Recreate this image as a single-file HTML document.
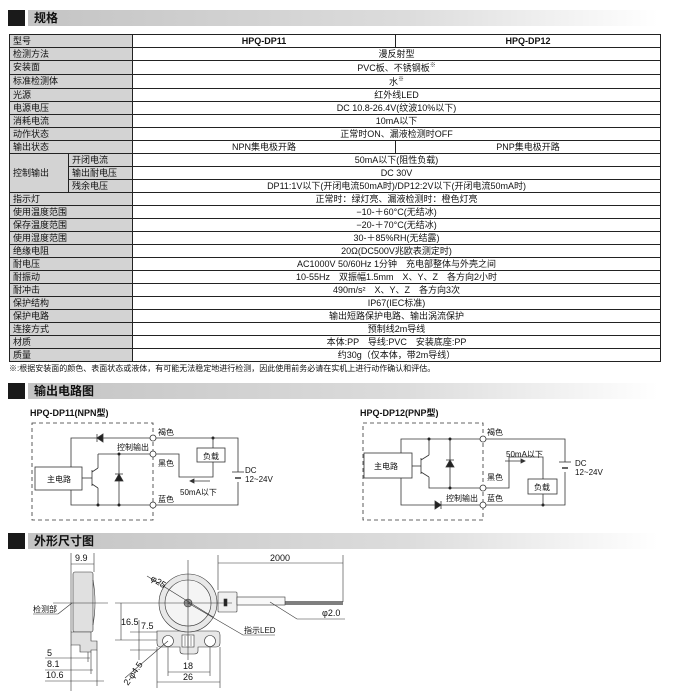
<!DOCTYPE html>
<html><head><meta charset="utf-8"><style>
*{margin:0;padding:0;box-sizing:border-box}
body{width:673px;height:691px;background:#fff;position:relative;overflow:hidden;font-family:"Liberation Sans","Noto Sans CJK SC",sans-serif;color:#111}
.hd{position:absolute;left:8px;height:16px;width:650px}
.hd .sq{position:absolute;left:0;top:0;width:17px;height:16px;background:#1a1a1a}
.hd .bar{position:absolute;left:20px;top:0;right:0;height:16px;background:linear-gradient(to right,#c4c4c4,#dcdcdc 60%,#fff);font-size:12px;font-weight:bold;line-height:16px;padding-left:6px}
table{position:absolute;left:9px;top:34px;border-collapse:collapse;table-layout:fixed;width:651px}
td{border:1px solid #222;height:13px;font-size:9px;line-height:11px;padding:0;text-align:center;white-space:nowrap;overflow:hidden}
td.l{background:#d3d3d3;text-align:left;padding-left:3px}
.fn{position:absolute;left:9px;top:363px;font-size:8px}
svg{position:absolute;left:0;top:0}
svg text{font-family:"Liberation Sans","Noto Sans CJK SC",sans-serif}
</style></head><body>
<div class="hd" style="top:10px"><div class="sq"></div><div class="bar">规格</div></div>
<table>
<colgroup><col style="width:59px"><col style="width:64px"><col style="width:263px"><col style="width:265px"></colgroup>
<tr><td class="l" colspan="2">型号</td><td><b>HPQ-DP11</b></td><td><b>HPQ-DP12</b></td></tr>
<tr><td class="l" colspan="2">检测方法</td><td colspan="2">漫反射型</td></tr>
<tr><td class="l" colspan="2">安装面</td><td colspan="2">PVC板、不锈钢板<sup style="font-size:6px">※</sup></td></tr>
<tr><td class="l" colspan="2">标准检测体</td><td colspan="2">水<sup style="font-size:6px">※</sup></td></tr>
<tr><td class="l" colspan="2">光源</td><td colspan="2">红外线LED</td></tr>
<tr><td class="l" colspan="2">电源电压</td><td colspan="2">DC 10.8-26.4V(纹波10%以下)</td></tr>
<tr><td class="l" colspan="2">消耗电流</td><td colspan="2">10mA以下</td></tr>
<tr><td class="l" colspan="2">动作状态</td><td colspan="2">正常时ON、漏液检测时OFF</td></tr>
<tr><td class="l" colspan="2">输出状态</td><td>NPN集电极开路</td><td>PNP集电极开路</td></tr>
<tr><td class="l" rowspan="3">控制输出</td><td class="l">开闭电流</td><td colspan="2">50mA以下(阻性负载)</td></tr>
<tr><td class="l">输出耐电压</td><td colspan="2">DC 30V</td></tr>
<tr><td class="l">残余电压</td><td colspan="2">DP11:1V以下(开闭电流50mA时)/DP12:2V以下(开闭电流50mA时)</td></tr>
<tr><td class="l" colspan="2">指示灯</td><td colspan="2">正常时：绿灯亮、漏液检测时：橙色灯亮</td></tr>
<tr><td class="l" colspan="2">使用温度范围</td><td colspan="2">−10-＋60°C(无结冰)</td></tr>
<tr><td class="l" colspan="2">保存温度范围</td><td colspan="2">−20-＋70°C(无结冰)</td></tr>
<tr><td class="l" colspan="2">使用湿度范围</td><td colspan="2">30-＋85%RH(无结露)</td></tr>
<tr><td class="l" colspan="2">绝缘电阻</td><td colspan="2">20Ω(DC500V兆欧表测定时)</td></tr>
<tr><td class="l" colspan="2">耐电压</td><td colspan="2">AC1000V 50/60Hz 1分钟　充电部整体与外壳之间</td></tr>
<tr><td class="l" colspan="2">耐振动</td><td colspan="2">10-55Hz　双振幅1.5mm　X、Y、Z　各方向2小时</td></tr>
<tr><td class="l" colspan="2">耐冲击</td><td colspan="2">490m/s²　X、Y、Z　各方向3次</td></tr>
<tr><td class="l" colspan="2">保护结构</td><td colspan="2">IP67(IEC标准)</td></tr>
<tr><td class="l" colspan="2">保护电路</td><td colspan="2">输出短路保护电路、输出涡流保护</td></tr>
<tr><td class="l" colspan="2">连接方式</td><td colspan="2">预制线2m导线</td></tr>
<tr><td class="l" colspan="2">材质</td><td colspan="2">本体:PP　导线:PVC　安装底座:PP</td></tr>
<tr><td class="l" colspan="2">质量</td><td colspan="2">约30g（仅本体，带2m导线）</td></tr>
</table>
<div class="fn">※:根据安装面的颜色、表面状态或液体，有可能无法稳定地进行检测，因此使用前务必请在实机上进行动作确认和评估。</div>
<div class="hd" style="top:383px"><div class="sq"></div><div class="bar">输出电路图</div></div>
<div class="hd" style="top:533px"><div class="sq"></div><div class="bar">外形尺寸图</div></div>

<svg width="673" height="691" viewBox="0 0 673 691" fill="none" stroke="#333" stroke-width="0.8">
<g font-size="9" fill="#111" stroke="none" font-weight="bold">
<text x="30" y="416">HPQ-DP11(NPN型)</text>
<text x="360" y="416">HPQ-DP12(PNP型)</text>
</g>
<!-- LEFT circuit -->
<rect x="32" y="423" width="121" height="97" stroke-dasharray="4,3"/>
<rect x="35" y="467" width="47" height="23" fill="#fff"/>
<polyline points="71,467 71,438 150,438"/>
<polygon points="97,438 103,434 103,442" fill="#222"/>
<line x1="97" y1="434" x2="97" y2="442"/>
<polyline points="98,454 150,454"/>
<line x1="98" y1="454" x2="98" y2="468"/>
<line x1="82" y1="478" x2="92" y2="478"/>
<line x1="92" y1="470" x2="92" y2="486"/>
<line x1="92" y1="472" x2="98" y2="468"/>
<line x1="92" y1="484" x2="98" y2="488"/>
<line x1="98" y1="488" x2="98" y2="505"/>
<polyline points="71,490 71,505 150,505"/>
<line x1="119" y1="454" x2="119" y2="505"/>
<polygon points="119,474 115,481 123,481" fill="#222"/>
<line x1="115" y1="474" x2="123" y2="474"/>
<g fill="#222" stroke="none"><circle cx="98" cy="505" r="1.5"/><circle cx="119" cy="505" r="1.5"/><circle cx="119" cy="454" r="1.5"/><circle cx="213" cy="438" r="1.5"/></g>
<g fill="#fff"><circle cx="153" cy="438" r="3"/><circle cx="153" cy="454" r="3"/><circle cx="153" cy="505" r="3"/></g>
<polyline points="156,438 238,438 238,472"/>
<polyline points="238,482 238,505 156,505"/>
<line x1="232" y1="472" x2="244" y2="472"/><line x1="235" y1="478" x2="241" y2="478" stroke-width="1.5"/>
<line x1="213" y1="438" x2="213" y2="448"/>
<rect x="197" y="448" width="28" height="14" fill="#fff"/>
<polyline points="156,454 179,454 179,477 213,477 213,462"/>
<line x1="190" y1="481" x2="210" y2="481"/><polygon points="190,481 194,479 194,483" fill="#333"/>
<g font-size="8" fill="#111" stroke="none">
<text x="158" y="435">褐色</text><text x="117" y="450">控制输出</text><text x="158" y="466">黑色</text><text x="158" y="502">蓝色</text>
<text x="180" y="495">50mA以下</text><text x="203" y="459">负载</text><text x="47" y="482">主电路</text>
<text x="245" y="473">DC</text><text x="245" y="482">12~24V</text>
</g>
<!-- RIGHT circuit -->
<rect x="363" y="423" width="120" height="97" stroke-dasharray="4,3"/>
<rect x="364" y="453" width="48" height="25" fill="#fff"/>
<polyline points="401,453 401,439 480,439"/>
<line x1="412" y1="466" x2="421" y2="466"/>
<line x1="421" y1="458" x2="421" y2="474"/>
<line x1="421" y1="460" x2="429" y2="455"/><line x1="429" y1="455" x2="429" y2="439"/>
<line x1="421" y1="472" x2="429" y2="477"/><polyline points="429,477 429,488 480,488"/>
<line x1="450" y1="439" x2="450" y2="488"/>
<polygon points="450,460 446,467 454,467" fill="#222"/><line x1="446" y1="460" x2="454" y2="460"/>
<polyline points="401,478 401,505 480,505"/>
<polygon points="441,505 435,501 435,509" fill="#222"/><line x1="441" y1="501" x2="441" y2="509"/>
<g fill="#222" stroke="none"><circle cx="429" cy="439" r="1.5"/><circle cx="450" cy="439" r="1.5"/><circle cx="450" cy="488" r="1.5"/><circle cx="543" cy="505" r="1.5"/></g>
<g fill="#fff"><circle cx="483" cy="439" r="3"/><circle cx="483" cy="488" r="3"/><circle cx="483" cy="505" r="3"/></g>
<polyline points="486,439 565,439 565,462"/>
<polyline points="565,472 565,505 486,505"/>
<line x1="559" y1="462" x2="571" y2="462"/><line x1="562" y1="468" x2="568" y2="468" stroke-width="1.5"/>
<polyline points="486,488 509,488 509,457 543,457 543,479"/>
<rect x="528" y="479" width="29" height="15" fill="#fff"/>
<line x1="543" y1="494" x2="543" y2="505"/>
<line x1="505" y1="461" x2="525" y2="461"/><polygon points="525,461 521,459 521,463" fill="#333"/>
<g font-size="8" fill="#111" stroke="none">
<text x="487" y="435">褐色</text><text x="506" y="457">50mA以下</text><text x="487" y="480">黑色</text>
<text x="446" y="501">控制输出</text><text x="487" y="501">蓝色</text><text x="534" y="490">负载</text>
<text x="374" y="469">主电路</text><text x="575" y="466">DC</text><text x="575" y="475">12~24V</text>
</g>
<!-- Dimension drawing -->
<g stroke-width="0.6">
<!-- side view -->
<line x1="71" y1="553" x2="71" y2="632"/><line x1="94" y1="553" x2="94" y2="572"/>
<line x1="71" y1="564" x2="94" y2="564"/>
<rect x="73" y="572" width="20" height="60" fill="#e0e0e0" rx="2"/>
<path d="M93,580 Q97,602 93,625" />
<path d="M71,632 L91,632 L91,641 L97,641 L97,650 L91,650 L91,652 L80,652 L80,645 L71,645 Z" fill="#e0e0e0"/>
<line x1="53" y1="603" x2="108" y2="603"/>
<line x1="33" y1="614" x2="58" y2="614"/><line x1="58" y1="614" x2="72" y2="603"/>
<line x1="71" y1="645" x2="71" y2="691"/>
<line x1="88" y1="652" x2="88" y2="662"/><line x1="91" y1="652" x2="91" y2="674"/><line x1="97" y1="650" x2="97" y2="686"/>
<line x1="45" y1="658" x2="90" y2="658"/><line x1="45" y1="670" x2="93" y2="670"/><line x1="45" y1="681" x2="104" y2="681"/>
<!-- front view -->
<path d="M180,631 L157,631 Q157,631 157,635 L157,643 Q157,647 161,647 L180,647 L180,651 Q180,654 184,654 L194,654 Q198,654 198,651 L198,647 L216,647 Q220,647 220,643 L220,635 Q220,631 216,631 Z" fill="#e8e8e8"/>
<circle cx="188" cy="603" r="29" fill="#e8e8e8"/>
<circle cx="188" cy="603" r="23" fill="#f4f4f4"/>
<circle cx="168" cy="641" r="5.5" fill="#fff"/><circle cx="210" cy="641" r="5.5" fill="#fff"/>
<rect x="182" y="635" width="12" height="12" fill="#fff"/>
<g stroke-width="0.5"><line x1="185" y1="636" x2="185" y2="646"/><line x1="188" y1="636" x2="188" y2="646"/><line x1="191" y1="636" x2="191" y2="646"/></g>
<circle cx="188" cy="603" r="4" fill="#999"/>
<rect x="218" y="592" width="19" height="20" rx="1" fill="#f0f0f0"/>
<rect x="224" y="599" width="3" height="7" fill="#222"/>
<rect x="237" y="597" width="48" height="8" fill="#f8f8f8"/>
<line x1="285" y1="602" x2="343" y2="602" stroke-width="1.2"/><line x1="285" y1="604" x2="343" y2="604" stroke-width="1.2"/>
<line x1="218" y1="555" x2="218" y2="590"/><line x1="343" y1="555" x2="343" y2="602"/>
<line x1="218" y1="563" x2="343" y2="563"/>
<line x1="188" y1="560" x2="188" y2="660"/>
<line x1="115" y1="603" x2="232" y2="603"/>
<line x1="115" y1="640" x2="157" y2="640"/>
<line x1="121" y1="603" x2="121" y2="640"/>
<line x1="130" y1="632" x2="157" y2="632"/><line x1="130" y1="650" x2="157" y2="650"/>
<line x1="139" y1="620" x2="139" y2="660"/>
<line x1="147" y1="576" x2="213" y2="617"/>
<polyline points="188,603 243,635 275,635"/>
<polyline points="270,602 297,619 345,619"/>
<line x1="168" y1="641" x2="125" y2="678"/>
<line x1="168" y1="647" x2="168" y2="676"/><line x1="210" y1="647" x2="210" y2="676"/>
<line x1="157" y1="647" x2="157" y2="688"/><line x1="220" y1="647" x2="220" y2="688"/>
<line x1="168" y1="672" x2="210" y2="672"/><line x1="157" y1="682" x2="220" y2="682"/>
</g>
<g font-size="9" fill="#111" stroke="none">
<text x="75" y="561">9.9</text><text x="33" y="612" font-size="8">检测部</text>
<text x="47" y="656">5</text><text x="47" y="667">8.1</text><text x="46" y="678">10.6</text>
<text x="270" y="561">2000</text><text x="322" y="616">φ2.0</text>
<text x="244" y="633" font-size="8">指示LED</text>
<text x="121" y="625">16.5</text><text x="141" y="629">7.5</text>
<text x="183" y="669">18</text><text x="183" y="680">26</text>
<text x="150" y="580" transform="rotate(32 150 580)">φ25</text>
<text x="128" y="686" transform="rotate(-55 128 686)">2-φ4.5</text>
</g>
</svg>
</body></html>
